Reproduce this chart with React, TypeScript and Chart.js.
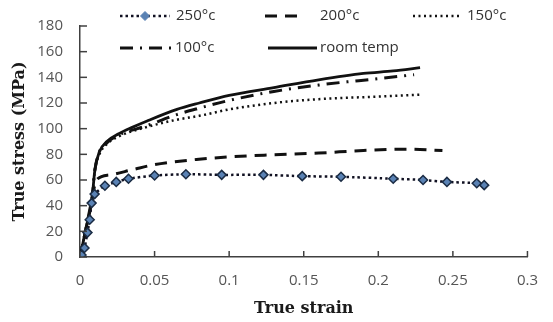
import React, { useEffect, useRef } from "react";
import { Chart, registerables } from "chart.js";

Chart.register(...registerables);

// ---- data ----
const seriesLabels = ["250°c", "200°c", "150°c", "100°c", "room temp"];

const x250 = [0.001, 0.003, 0.005, 0.0065, 0.0078, 0.0098, 0.0167, 0.0243, 0.0325, 0.05, 0.071, 0.095, 0.123, 0.149, 0.175, 0.21, 0.23, 0.246, 0.266, 0.271];
const y250 = [1.5, 7, 19, 29, 42, 49, 55.5, 58.5, 61, 63.5, 64.5, 64, 64, 63, 62.5, 61, 60, 58.5, 57.5, 56];

const x200 = [0, 0.004, 0.008, 0.011, 0.02, 0.035, 0.05, 0.078, 0.1, 0.126, 0.16, 0.19, 0.22, 0.243];
const y200 = [0, 22, 45, 60, 64, 68, 72, 76, 78, 79.5, 81, 83, 84, 83];

const x150 = [0, 0.004, 0.008, 0.01, 0.013, 0.018, 0.026, 0.044, 0.065, 0.08, 0.1, 0.13, 0.16, 0.2, 0.228];
const y150 = [0, 22, 45, 68, 80, 88, 94, 101, 107, 110, 115, 120, 123, 125, 126.5];

const x100 = [0, 0.004, 0.008, 0.01, 0.013, 0.018, 0.026, 0.044, 0.065, 0.08, 0.1, 0.13, 0.16, 0.2, 0.224];
const y100 = [0, 22, 45, 68, 82, 89, 95, 102, 111, 116, 122, 129, 134, 139, 142];

const xRoom = [0, 0.004, 0.008, 0.01, 0.013, 0.018, 0.026, 0.035, 0.045, 0.065, 0.08, 0.1, 0.13, 0.16, 0.19, 0.21, 0.228];
const yRoom = [0, 22, 45, 68, 82, 90, 96, 101, 106, 115, 120, 126, 132, 138, 143, 145, 147.5];

const xTickLabels = ["0", "0.05", "0.1", "0.15", "0.2", "0.25", "0.3"];
const yTickLabels = ["0", "20", "40", "60", "80", "100", "120", "140", "160", "180"];

const xTitle = "True strain";
const yTitle = "True stress (MPa)";

const pts = (xs: number[], ys: number[]) => xs.map((x, i) => ({ x, y: ys[i] }));

// legend layout (positions only)
const legendLayout = [
  { ds: 0, x1: 120, x2: 170, tx: 176, y: 16 },
  { ds: 1, x1: 265, x2: 305, tx: 320, y: 16 },
  { ds: 2, x1: 413, x2: 460, tx: 467, y: 16 },
  { ds: 3, x1: 120, x2: 172, tx: 175, y: 48 },
  { ds: 4, x1: 268, x2: 317, tx: 320, y: 48 },
];

const FONT = "'Open Sans', 'Liberation Sans', sans-serif";

const insideTicks = {
  id: "insideTicks",
  afterDraw(chart: any) {
    const ctx = chart.ctx;
    const xs = chart.scales.x;
    const ys = chart.scales.y;
    ctx.save();
    ctx.strokeStyle = "#404040";
    ctx.lineWidth = 1.5;
    ys.ticks.forEach((t: any) => {
      const py = ys.getPixelForValue(t.value);
      ctx.beginPath();
      ctx.moveTo(ys.right, py);
      ctx.lineTo(ys.right + 7, py);
      ctx.stroke();
    });
    xs.ticks.forEach((t: any) => {
      const px = xs.getPixelForValue(t.value);
      ctx.beginPath();
      ctx.moveTo(px, xs.top);
      ctx.lineTo(px, xs.top - 6);
      ctx.stroke();
    });
    ctx.restore();
  },
};

const customLegend = {
  id: "customLegend",
  afterDraw(chart: any) {
    const ctx = chart.ctx;
    ctx.save();
    legendLayout.forEach((it) => {
      const ds: any = chart.data.datasets[it.ds];
      ctx.beginPath();
      ctx.strokeStyle = ds.borderColor;
      ctx.lineWidth = ds.borderWidth;
      ctx.setLineDash(ds.borderDash || []);
      ctx.moveTo(it.x1, it.y);
      ctx.lineTo(it.x2, it.y);
      ctx.stroke();
      ctx.setLineDash([]);
      if (ds.pointRadius && ds.pointRadius > 0) {
        const cx = (it.x1 + it.x2) / 2;
        const r = ds.pointRadius;
        ctx.beginPath();
        ctx.moveTo(cx, it.y - r);
        ctx.lineTo(cx + r, it.y);
        ctx.lineTo(cx, it.y + r);
        ctx.lineTo(cx - r, it.y);
        ctx.closePath();
        ctx.fillStyle = ds.pointBackgroundColor;
        ctx.fill();
        ctx.lineWidth = 1;
        ctx.strokeStyle = ds.pointBackgroundColor;
        ctx.stroke();
      }
      ctx.fillStyle = "#333";
      ctx.font = `15px ${FONT}`;
      ctx.textBaseline = "middle";
      ctx.textAlign = "left";
      ctx.fillText(ds.label, it.tx, it.y);
    });
    ctx.restore();
  },
};

export default function App() {
  const ref = useRef<HTMLCanvasElement | null>(null);

  useEffect(() => {
    document.body.style.margin = "0";
    const canvas = ref.current;
    if (!canvas) return;
    const common = {
      pointRadius: 0,
      fill: false,
      cubicInterpolationMode: "monotone" as const,
      borderColor: "#111",
    };
    const chart = new Chart(canvas, {
      type: "line",
      data: {
        datasets: [
          {
            label: seriesLabels[0],
            data: pts(x250, y250),
            borderColor: "#111122",
            borderWidth: 2.5,
            borderDash: [2.5, 3],
            pointStyle: "rectRot",
            pointRadius: 4.5,
            pointBackgroundColor: "#5a82b4",
            pointBorderColor: "#1b2c44",
            pointBorderWidth: 1.5,
            fill: false,
            tension: 0.2,
            order: 0,
          },
          { ...common, label: seriesLabels[1], data: pts(x200, y200), borderWidth: 3, borderDash: [12, 8] },
          { ...common, label: seriesLabels[2], data: pts(x150, y150), borderWidth: 2.5, borderDash: [2, 3.5] },
          { ...common, label: seriesLabels[3], data: pts(x100, y100), borderWidth: 3, borderDash: [13, 7, 2, 7] },
          { ...common, label: seriesLabels[4], data: pts(xRoom, yRoom), borderWidth: 2.8 },
        ],
      },
      options: {
        animation: false,
        responsive: false,
        layout: { padding: { left: 0, right: 13, top: 18, bottom: 0 } },
        plugins: {
          legend: { display: false },
          tooltip: { enabled: false },
        },
        scales: {
          x: {
            type: "linear",
            min: 0,
            max: 0.3,
            afterFit: (s: any) => {
              s.height = 65;
            },
            ticks: {
              stepSize: 0.05,
              padding: 15,
              color: "#555",
              font: { family: FONT, size: 15 },
              callback: (_v: any, i: number) => xTickLabels[i],
              maxRotation: 0,
            },
            grid: { display: true, drawOnChartArea: false, drawTicks: false },
            border: { display: true, color: "#404040", width: 1.5 },
            title: {
              display: true,
              text: xTitle,
              color: "#1a1a1a",
              font: { family: "'DejaVu Serif', serif", size: 16, weight: "bold" },
              padding: { top: 0, bottom: 4 },
            },
          },
          y: {
            min: 0,
            max: 180,
            afterFit: (s: any) => {
              s.width = 80;
            },
            ticks: {
              stepSize: 20,
              padding: 17,
              color: "#555",
              font: { family: FONT, size: 15 },
              callback: (_v: any, i: number) => yTickLabels[i],
            },
            grid: { display: true, drawOnChartArea: false, drawTicks: false },
            border: { display: true, color: "#404040", width: 1.5 },
            title: {
              display: true,
              text: yTitle,
              color: "#1a1a1a",
              font: { family: "'DejaVu Serif', serif", size: 16, weight: "bold" },
              padding: { top: 10, bottom: 0 },
            },
          },
        },
      },
      plugins: [insideTicks, customLegend],
    });
    return () => chart.destroy();
  }, []);

  return (
    <div style={{ width: 553, height: 322, background: "#fff" }}>
      <canvas ref={ref} width={553} height={322} />
    </div>
  );
}
